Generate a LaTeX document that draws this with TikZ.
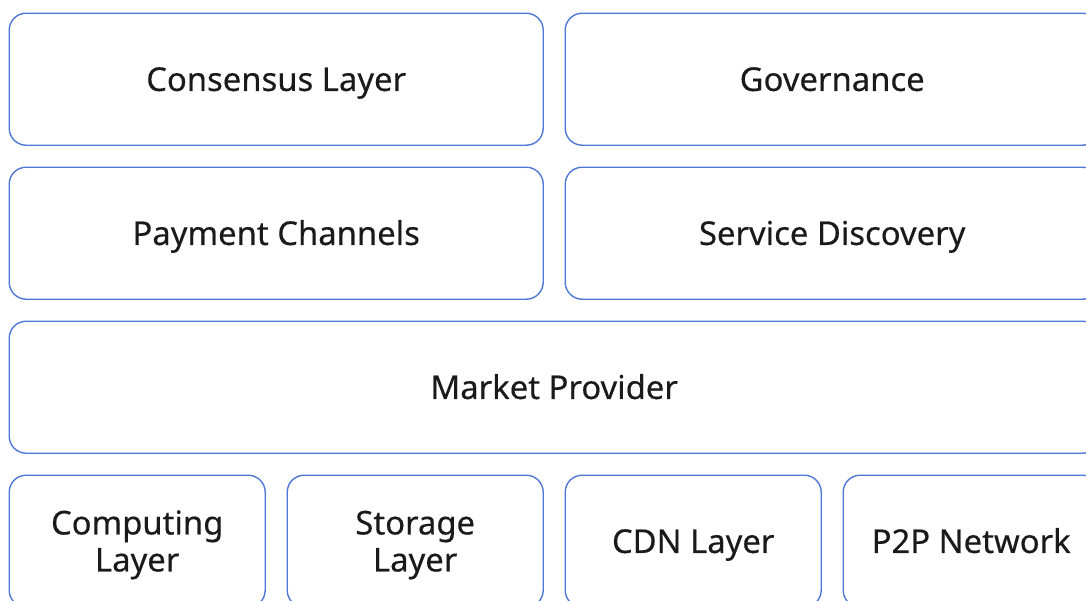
\documentclass[tikz,border=0pt]{standalone}
\usepackage{fontspec}
\setmainfont[FakeBold=0.35]{Noto Sans}
\definecolor{edgeblue}{HTML}{4F78D6}
\definecolor{labelink}{HTML}{1A1A1A}
\begin{document}
\begin{tikzpicture}[x=1pt,y=-1pt,
  layerbox/.style={draw=edgeblue, line width=1.4pt, rounded corners=17pt,
    anchor=north west, inner sep=0pt, text=labelink, align=center,
    font=\fontsize{32.8}{37}\selectfont\bfseries, text height=23.5pt, text depth=0pt},
  twoline/.style={text height=60.5pt},
  half/.style={layerbox, minimum width=534pt, minimum height=132pt},
  full/.style={layerbox, minimum width=1090pt, minimum height=132pt},
  quarter/.style={layerbox, minimum width=256pt, minimum height=132pt}]
\useasboundingbox (0,0) rectangle (1086,600);
\begin{scope}
\clip (0,0) rectangle (1086,600);
% top two rows: two wide blocks each
\node[half] (consensus) at (8.5,12.5) {Consensus Layer};
\node[half] (governance) at (564.5,12.5) {Governance};
\node[half] (payment) at (8.5,166.5) {Payment Channels};
\node[half] (discovery) at (564.5,166.5) {Service Discovery};
% middle: one block across the whole width
\node[full] (market) at (8.5,320.5) {Market Provider};
% bottom row: four infrastructure blocks
\node[quarter, twoline] (computing) at (8.5,474.5) {Computing\\Layer};
\node[quarter, twoline] (storage) at (286.5,474.5) {Storage\\Layer};
\node[quarter] (cdn) at (564.5,474.5) {CDN Layer};
\node[quarter] (p2p) at (842.5,474.5) {P2P Network};
\end{scope}
\end{tikzpicture}
\end{document}
